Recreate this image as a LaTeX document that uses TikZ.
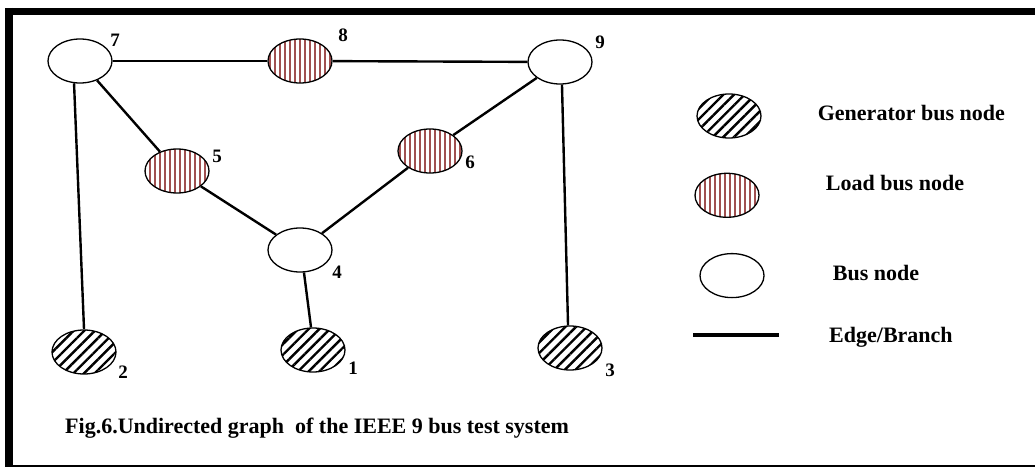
\documentclass[tikz,border=0pt]{standalone}
\usepackage{fontspec}
\setmainfont{Liberation Serif}
\usetikzlibrary{shapes.geometric,patterns.meta,positioning}
\definecolor{loadred}{RGB}{160,80,80}

\begin{document}
\begin{tikzpicture}[x=1pt,y=-1pt,
  bus/.style={draw,ellipse,line width=1.3pt,minimum width=64pt,minimum height=44pt,inner sep=0pt},
  gen/.style={bus,pattern={Lines[angle=45,distance=7.5pt,line width=2.4pt]},pattern color=black},
  load/.style={bus,pattern={Lines[angle=90,distance=5pt,line width=2.4pt]},pattern color=loadred},
  num/.style={font=\bfseries\fontsize{19}{19}\selectfont,inner sep=0pt},
  txt/.style={font=\bfseries\fontsize{22}{22}\selectfont,inner sep=0pt,anchor=west},
  branch/.style={line width=2.4pt}]
  \useasboundingbox (0,0) rectangle (1035,468);

  % frame (thick top and left, thin bottom)
  \draw[line width=7pt] (5,11.5) -- (1035,11.5);
  \draw[line width=8pt] (9,8) -- (9,466);
  \draw[line width=2pt] (5,466) -- (1035,466);

  % buses of the 9 bus system
  \node[bus]  (n7) at (80,61)   {};
  \node[load] (n8) at (300,61)  {};
  \node[bus]  (n9) at (560,62)  {};
  \node[load] (n5) at (177,171) {};
  \node[load] (n6) at (430,151) {};
  \node[bus]  (n4) at (300,250) {};
  \node[gen]  (n2) at (84,352)  {};
  \node[gen]  (n1) at (313,350) {};
  \node[gen]  (n3) at (570,348) {};

  % bus numbers
  \node[num] (t7) at ([shift={(35,-21)}]n7) {7};
  \node[num] (t8) at ([shift={(43,-26)}]n8) {8};
  \node[num] (t9) at ([shift={(40,-20)}]n9) {9};
  \node[num] (t5) at ([shift={(40,-15)}]n5) {5};
  \node[num] (t6) at ([shift={(40,11)}]n6)  {6};
  \node[num] (t4) at ([shift={(37,22)}]n4)  {4};
  \node[num] (t2) at ([shift={(39,20)}]n2)  {2};
  \node[num] (t1) at ([shift={(40,18)}]n1)  {1};
  \node[num] (t3) at ([shift={(40,22)}]n3)  {3};

  % branches
  \draw[branch] (n7) -- (n8);
  \draw[branch] (n8) -- (n9);
  \draw[branch] (n7) -- (n5);
  \draw[branch] (n7.255) -- (n2.north);
  \draw[branch] (n5) -- (n4);
  \draw[branch] (n6) -- (n4);
  \draw[branch] (n9) -- (n6);
  \draw[branch] (n4.-80) -- (n1.95);
  \draw[branch] (n9.-85) -- (n3.95);

  % legend
  \node[gen] (lgen) at (729,116) {};
  \node[load, below=34pt of lgen, xshift=-2pt] (lload) {};
  \node[bus, below=35pt of lload, xshift=5pt] (lbus) {};
  \coordinate (le1) at (693,335);
  \coordinate (le2) at (779,335);
  \draw[line width=4pt] (le1) -- (le2);
  \node[txt, right=56pt of lgen, yshift=3pt] (tgen) {Generator bus node};
  \node[txt, right=66pt of lload, yshift=12pt] (tload) {Load bus node};
  \node[txt, right=68pt of lbus, yshift=3pt] (tbus) {Bus node};
  \node[txt, right=50pt of le2, yshift=-2pt] (tedge) {Edge/Branch};

  % caption
  \node[txt] (cap) at (65,428) {Fig.6.Undirected graph\ \ of the IEEE 9 bus test system};
\end{tikzpicture}
\end{document}
